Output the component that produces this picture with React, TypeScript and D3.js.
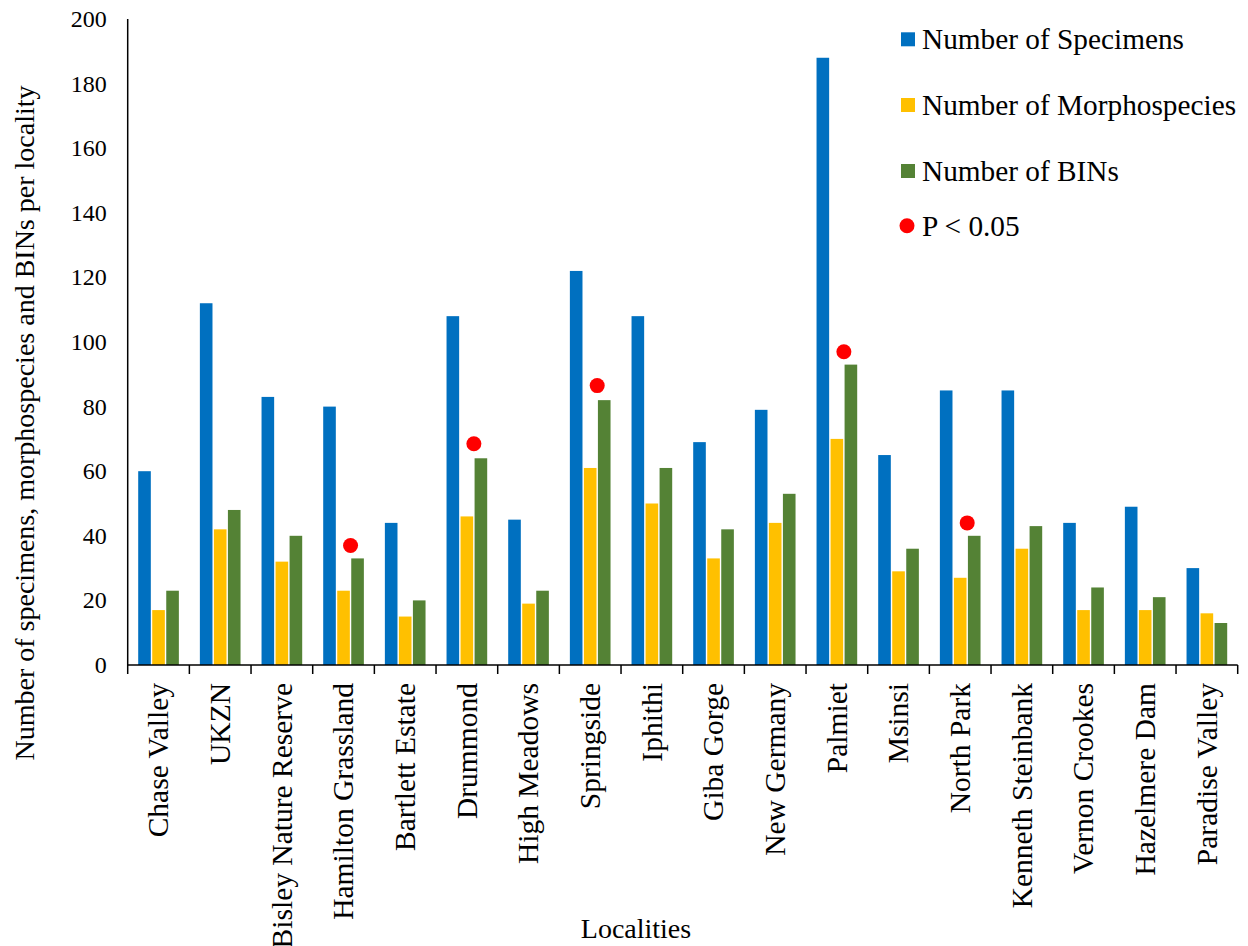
import React, { useEffect, useRef } from 'react';
import * as d3 from 'd3';

const localities = [
    'Chase Valley', 'UKZN', 'Bisley Nature Reserve', 'Hamilton Grassland', 'Bartlett Estate',
    'Drummond', 'High Meadows', 'Springside', 'Iphithi', 'Giba Gorge', 'New Germany',
    'Palmiet', 'Msinsi', 'North Park', 'Kenneth Steinbank', 'Vernon Crookes',
    'Hazelmere Dam', 'Paradise Valley',
];
const specimens = [60, 112, 83, 80, 44, 108, 45, 122, 108, 69, 79, 188, 65, 85, 85, 44, 49, 30];
const morphospecies = [17, 42, 32, 23, 15, 46, 19, 61, 50, 33, 44, 70, 29, 27, 36, 17, 17, 16];
const bins = [23, 48, 40, 33, 20, 64, 23, 82, 61, 42, 53, 93, 36, 40, 43, 24, 21, 13];

// localities marked significant (P < 0.05) and the height of the red marker
const sigLocalities = ['Hamilton Grassland', 'Drummond', 'Springside', 'Palmiet', 'North Park'];
const sigValues = [37, 68.5, 86.5, 97, 44];

const seriesNames = ['Number of Specimens', 'Number of Morphospecies', 'Number of BINs'];
const seriesColors = ['#0070C0', '#FFC000', '#548235'];
const yTicks = [0, 20, 40, 60, 80, 100, 120, 140, 160, 180, 200];

const W = 1248;
const H = 946;
const FONT = 'Liberation Serif, Times New Roman, serif';

const App: React.FC = () => {
    const svgRef = useRef<SVGSVGElement>(null);

    useEffect(() => {
        if (!svgRef.current) return;
        const svg = d3.select(svgRef.current);
        svg.selectAll('*').remove();

        const left = 127.7;
        const right = 1237.7;
        const top = 19;
        const bottom = 665;

        const x = d3.scaleBand<string>().domain(localities).range([left, right]);
        const x1 = d3.scaleBand<string>()
            .domain(seriesNames)
            .range([10.5, x.bandwidth() - 10.5])
            .paddingInner(0.1);
        const y = d3.scaleLinear().domain([0, 200]).range([bottom, top]);

        const allSeries = [specimens, morphospecies, bins];

        // bars
        allSeries.forEach((vals, si) => {
            svg.append('g')
                .selectAll('rect')
                .data(vals)
                .join('rect')
                .attr('x', (_, i) => (x(localities[i]) as number) + (x1(seriesNames[si]) as number))
                .attr('y', d => y(d))
                .attr('width', x1.bandwidth())
                .attr('height', d => y(0) - y(d))
                .attr('fill', seriesColors[si]);
        });

        // significance markers, between morphospecies and BIN bars
        const gap = x1.step() - x1.bandwidth();
        const dotOffset = (x1(seriesNames[1]) as number) + x1.bandwidth() + gap / 2;
        svg.append('g')
            .selectAll('circle')
            .data(sigValues)
            .join('circle')
            .attr('cx', (_, i) => (x(sigLocalities[i]) as number) + dotOffset)
            .attr('cy', d => y(d))
            .attr('r', 7.5)
            .attr('fill', '#FF0000');

        // y axis
        svg.append('line')
            .attr('x1', left).attr('x2', left)
            .attr('y1', top).attr('y2', bottom)
            .attr('stroke', '#000').attr('stroke-width', 1.5);

        svg.append('g')
            .selectAll('text')
            .data(yTicks)
            .join('text')
            .attr('x', left - 21)
            .attr('y', d => y(d))
            .attr('dy', '0.33em')
            .attr('text-anchor', 'end')
            .attr('font-family', FONT)
            .attr('font-size', 24)
            .text(d => d);

        // x axis
        svg.append('line')
            .attr('x1', left).attr('x2', right)
            .attr('y1', bottom).attr('y2', bottom)
            .attr('stroke', '#000').attr('stroke-width', 1.5);

        const tickPos = localities.map(l => x(l) as number).concat([right]);
        svg.append('g')
            .selectAll('line')
            .data(tickPos)
            .join('line')
            .attr('x1', d => d).attr('x2', d => d)
            .attr('y1', bottom).attr('y2', bottom + 9)
            .attr('stroke', '#000').attr('stroke-width', 1.5);

        svg.append('g')
            .selectAll('text')
            .data(localities)
            .join('text')
            .attr('transform', d => `translate(${(x(d) as number) + x.bandwidth() / 2},${bottom + 18}) rotate(-90)`)
            .attr('dy', '0.33em')
            .attr('text-anchor', 'end')
            .attr('font-family', FONT)
            .attr('font-size', 29.5)
            .text(d => d);

        // axis titles
        svg.append('text')
            .attr('transform', `translate(34,423) rotate(-90)`)
            .attr('text-anchor', 'middle')
            .attr('font-family', FONT)
            .attr('font-size', 28)
            .text('Number of specimens, morphospecies and BINs per locality');

        svg.append('text')
            .attr('x', 636)
            .attr('y', 938)
            .attr('text-anchor', 'middle')
            .attr('font-family', FONT)
            .attr('font-size', 28)
            .text('Localities');

        // legend
        const legendBase = [49.3, 115, 181, 235.7];
        const legend = svg.append('g');
        seriesNames.forEach((name, i) => {
            legend.append('rect')
                .attr('x', 901)
                .attr('y', legendBase[i] - 17)
                .attr('width', 14)
                .attr('height', 14)
                .attr('fill', seriesColors[i]);
            legend.append('text')
                .attr('x', 922)
                .attr('y', legendBase[i])
                .attr('font-family', FONT)
                .attr('font-size', 29.3)
                .text(name);
        });
        legend.append('circle')
            .attr('cx', 907)
            .attr('cy', legendBase[3] - 10)
            .attr('r', 7.5)
            .attr('fill', '#FF0000');
        legend.append('text')
            .attr('x', 922)
            .attr('y', legendBase[3])
            .attr('font-family', FONT)
            .attr('font-size', 29.3)
            .text('P < 0.05');
    }, []);

    return (
        <svg
            ref={svgRef}
            width={W}
            height={H}
            style={{ position: 'absolute', left: 0, top: 0, background: '#fff', display: 'block' }}
        />
    );
};

export default App;
